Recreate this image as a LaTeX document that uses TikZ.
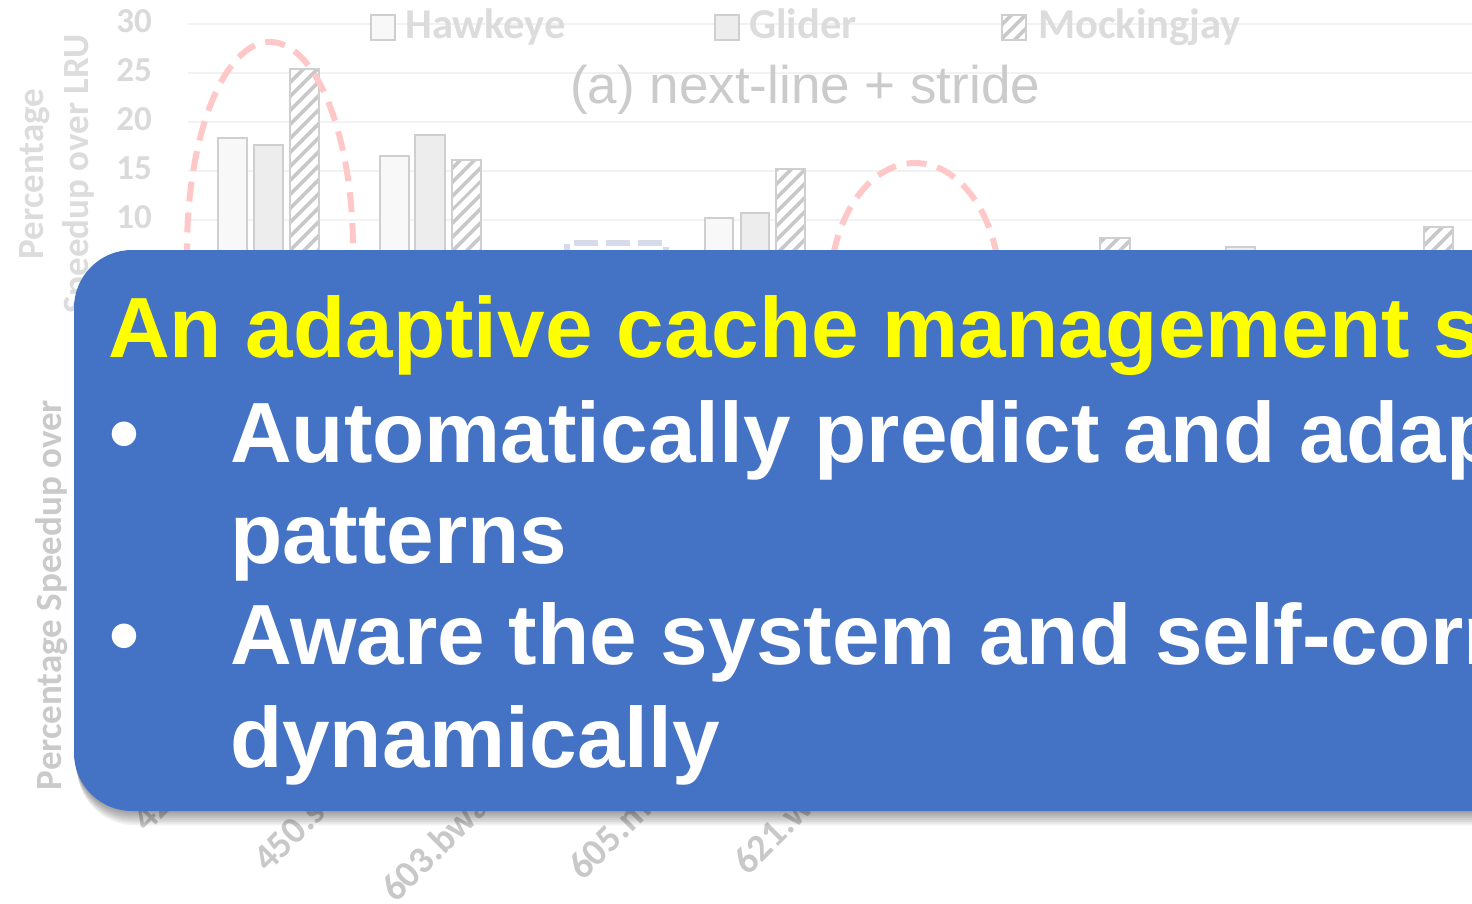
\documentclass[tikz,border=0pt]{standalone}
\usepackage{fontspec}
\setmainfont{Liberation Sans}
\newfontfamily\chartfont{Carlito}
\usetikzlibrary{patterns.meta}

\definecolor{boxblue}{HTML}{4472C4}
\definecolor{headyellow}{HTML}{FFFF00}
\definecolor{gridc}{HTML}{F2F2F2}
\definecolor{ticktext}{HTML}{DADADA}
\definecolor{axtext}{HTML}{DCDCDC}
\definecolor{axtextb}{HTML}{CACACA}
\definecolor{cattext}{HTML}{C8C8C8}
\definecolor{titlegray}{HTML}{CBCBCB}
\definecolor{barline}{HTML}{CFCFCF}
\definecolor{hawkfill}{HTML}{F8F8F8}
\definecolor{glidfill}{HTML}{EDEDED}
\definecolor{hatchc}{HTML}{C8C8C8}
\definecolor{ringred}{HTML}{FFC8C8}
\definecolor{markblue}{HTML}{D5DBE9}

\begin{document}
\begin{tikzpicture}[x=1pt,y=-1pt,
  lbl/.style={inner sep=0pt, anchor=base west},
  tick/.style={inner sep=0pt, anchor=base east, text=ticktext,
    font=\chartfont\bfseries\fontsize{35}{40}\selectfont},
  axtitle/.style={inner sep=0pt, anchor=base, rotate=90, text=axtext,
    font=\chartfont\bfseries\fontsize{37}{40}\selectfont},
  legtext/.style={lbl, text=axtext, font=\chartfont\bfseries\fontsize{42.5}{46}\selectfont},
  catlabel/.style={lbl, rotate=45, text=cattext,
    font=\chartfont\bfseries\fontsize{38}{40}\selectfont},
  hbar/.style={draw=barline, line width=1.6pt, fill=hawkfill},
  gbar/.style={draw=barline, line width=1.6pt, fill=glidfill},
  mbar/.style={draw=barline, line width=1.6pt, preaction={fill=white},
    pattern={Lines[angle=45,distance=10.5pt,line width=4pt]}, pattern color=hatchc},
  ring/.style={draw=ringred, line width=6pt, dash pattern=on 20pt off 11pt},
  headline/.style={lbl, text=headyellow, font=\bfseries\fontsize{85.5}{100}\selectfont},
  bodyline/.style={lbl, text=white, font=\bfseries\fontsize{85.5}{100}\selectfont}]

\useasboundingbox (0,0) rectangle (1472,904);
\clip (0,0) rectangle (1472,904);
\fill[white] (0,0) rectangle (1472,904);

% horizontal grid of the chart
\foreach \gy in {24,73,122,171,220}
  \draw[gridc, line width=1.5pt] (188,\gy) -- (1472,\gy);

% value axis
\foreach \v/\ty in {30/33,25/82,20/131,15/180,10/229}
  \node[tick] (tick\v) at (152,\ty) {\v};

\node[axtitle] (ytitleA) at (43,174) {Percentage};
\node[axtitle] (ytitleB) at (88,174) {Speedup over LRU};
\node[axtitle, text=axtextb] (ytitleC) at (61,595) {Percentage Speedup over};

% legend
\draw[hbar] (371,15) rectangle (395,40);
\node[legtext] (legH) at (405,39) {Hawkeye};
\draw[gbar] (715,15) rectangle (739,40);
\node[legtext] (legG) at (749,39) {Glider};
\draw[mbar] (1002,15) rectangle (1026,40);
\node[legtext] (legM) at (1038,39) {Mockingjay};

% chart title
\node[lbl, text=titlegray, font=\fontsize{53}{60}\selectfont] (ctitle) at (570,104) {(a) next-line + stride};

% bars (Hawkeye, Glider, Mockingjay)
\draw[hbar] (218,330) rectangle (247,138);
\draw[gbar] (254,330) rectangle (283,145);
\draw[mbar] (290,330) rectangle (319,69);

\draw[hbar] (380,330) rectangle (409,156);
\draw[gbar] (415,330) rectangle (445,135);
\draw[mbar] (452,330) rectangle (481,160);

\draw[hbar] (705,330) rectangle (733,218);
\draw[gbar] (741,330) rectangle (769,213);
\draw[mbar] (776,330) rectangle (805,169);

\draw[mbar] (1100,330) rectangle (1130,238);
\draw[gbar] (1226,330) rectangle (1255,247);
\draw[mbar] (1424,330) rectangle (1453,227);

% highlight rings
\draw[ring] (270,250) ellipse [x radius=83, y radius=208];
\draw[ring] (915,290) ellipse [x radius=85, y radius=127];

% dashed marker
\draw[markblue, line width=6pt, dash pattern=on 24pt off 8pt] (567,300) -- (567,243) -- (666,243) -- (666,300);

% category labels, running up under the callout
\node[catlabel] (cat1) at (147,834) {42};
\node[catlabel] (cat2) at (268,874) {450.s};
\node[catlabel] (cat3) at (396,904) {603.bwa};
\node[catlabel] (cat4) at (583,882) {605.m};
\node[catlabel] (cat5) at (748,877) {621.w};

% soft shadow under the callout
\foreach \i in {1,...,8}
  \fill[black, opacity=0.05, rounded corners=58pt]
    ({74+0.4*\i},{250+\i}) rectangle (1600,{811+1.8*\i});

% callout box
\fill[boxblue, rounded corners=58pt] (74,250) rectangle (1600,811);

\node[headline] (head) at (108,357) {An adaptive cache management s};
\node[bodyline] (bulA) at (109,462) {•};
\node[bodyline] (lineA) at (230,462) {Automatically predict and adap};
\node[bodyline] (lineB) at (230,563) {patterns};
\node[bodyline] (bulB) at (109,664) {•};
\node[bodyline] (lineC) at (230,664) {Aware the system and self-corr};
\node[bodyline] (lineD) at (230,767) {dynamically};

\end{tikzpicture}
\end{document}
